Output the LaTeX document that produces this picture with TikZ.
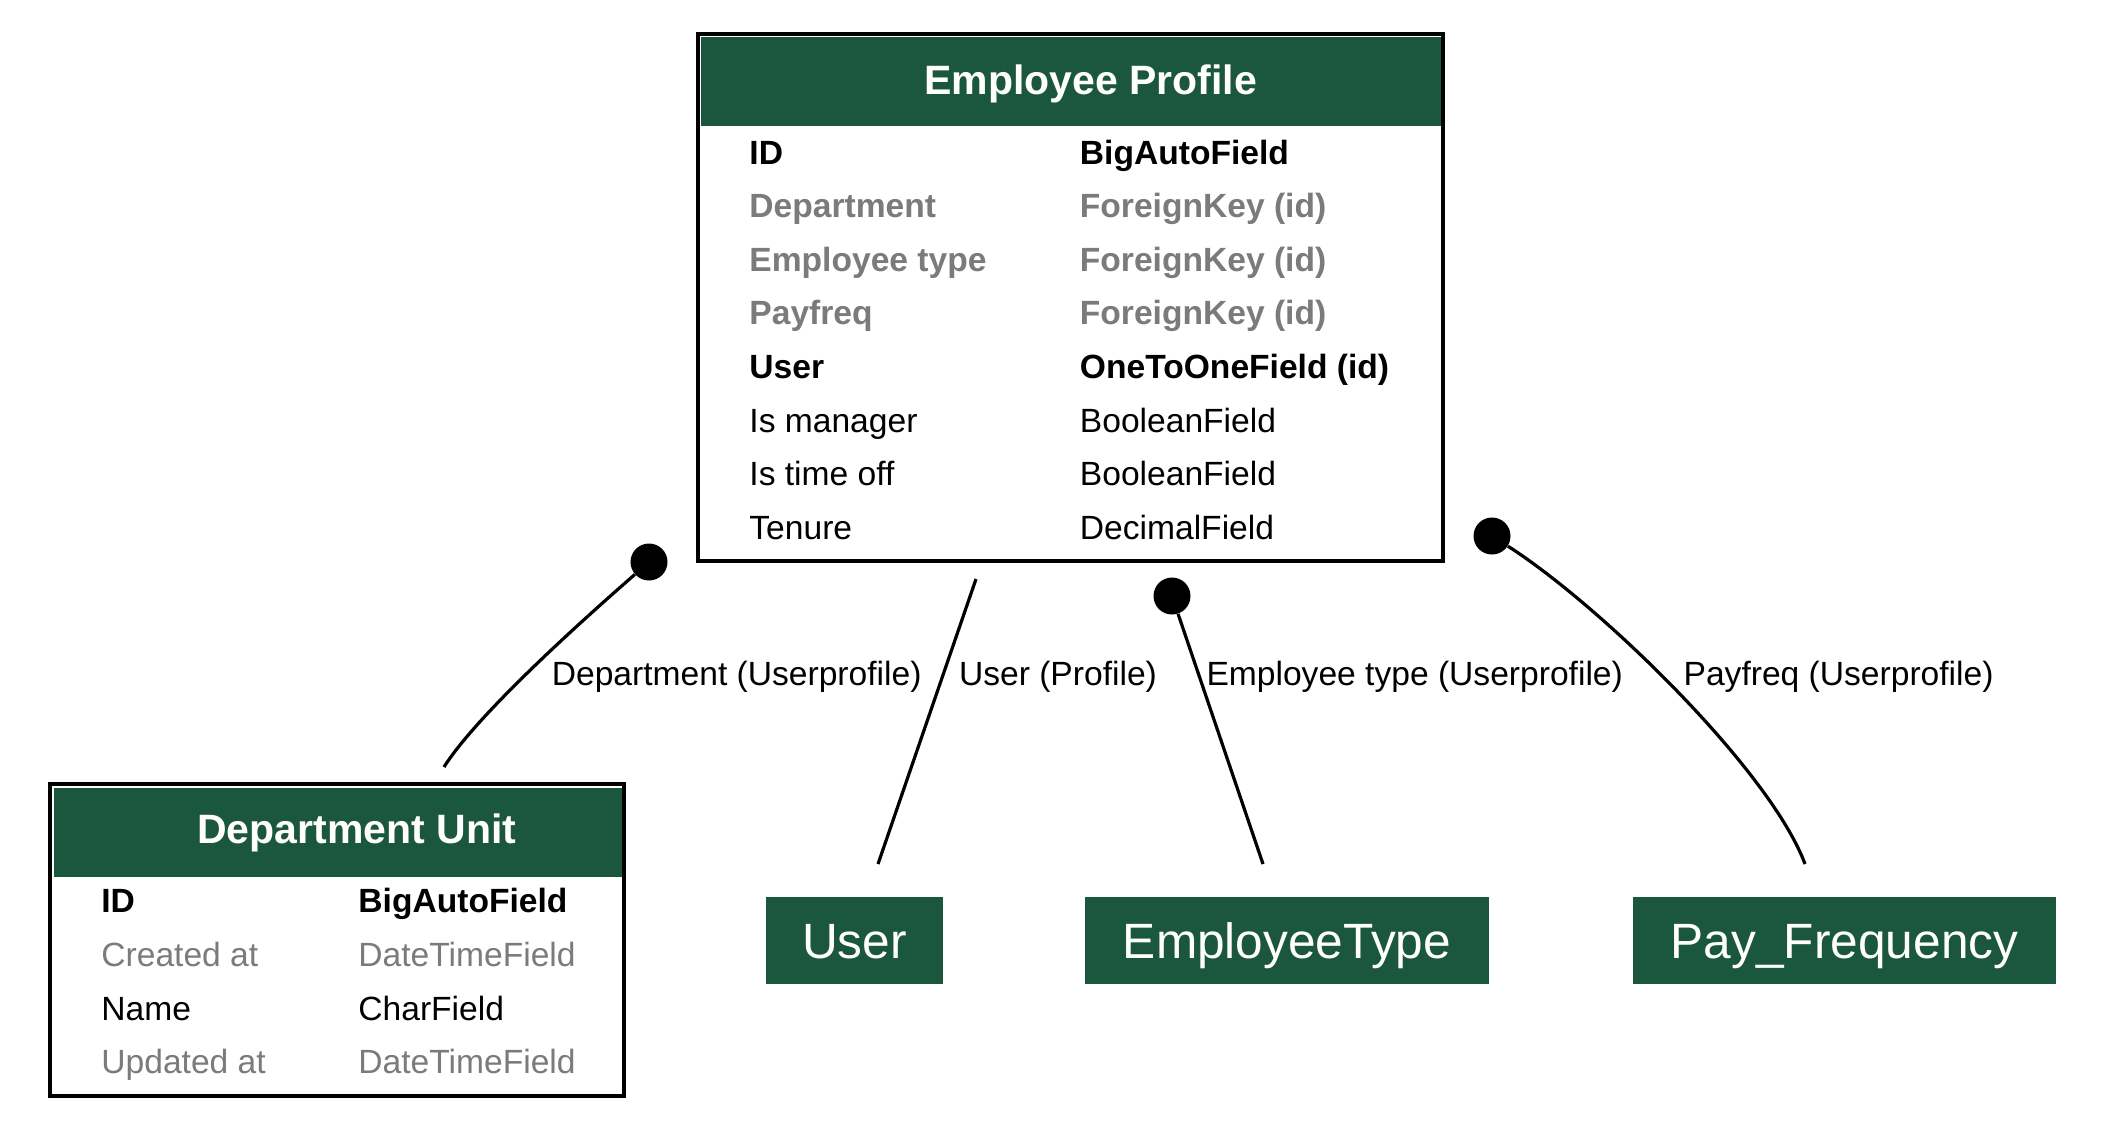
\documentclass[tikz,border=0pt]{standalone}
\usepackage{fontspec}
\setmainfont{Liberation Sans}
\usepackage{tikz}
\usetikzlibrary{positioning}
\definecolor{hdgreen}{HTML}{1B563F}
\definecolor{fkgray}{HTML}{7B7B7B}

\begin{document}
\begin{tikzpicture}[
      x=0.5pt, y=-0.5pt,
      tbl/.style={draw, line width=2pt, inner sep=0pt},
      head/.style={fill=hdgreen, inner sep=0pt, minimum height=44.5pt},
      ttl/.style={anchor=base, text=white, font=\fontsize{20.5}{24}\selectfont\bfseries},
      row/.style={anchor=base west, inner sep=0pt, font=\fontsize{16.8}{20}\selectfont},
      pkrow/.style={font=\fontsize{16.8}{20}\selectfont\bfseries},
      fkrow/.style={text=fkgray, font=\fontsize{16.8}{20}\selectfont\bfseries},
      plainrow/.style={},
      nullrow/.style={text=fkgray},
      ent/.style={fill=hdgreen, text=white, inner sep=0pt, font=\fontsize{24.8}{28}\selectfont,
        text height=17.8pt, text depth=0pt, minimum height=43.5pt},
      dotend/.style={circle, fill, inner sep=0pt, minimum size=18.5pt},
      rel/.style={line width=1.6pt},
      lbl/.style={anchor=base, inner sep=0pt, font=\fontsize{16.8}{20}\selectfont}
    ]
      \useasboundingbox (0,0) rectangle (2108,1131);
      \fill[white] (0,0) rectangle (2108,1131);

      % Employee Profile
      \node[head, minimum width=370pt] (ep-head) at (1071,81.5) {};
      \node[ttl] (ep-title) at (1090.7,94) {Employee Profile};
      \node[tbl, minimum width=372.5pt, minimum height=263.5pt] (ep) at (1070.5,297.5) {};
      \foreach \f/\t/\s [count=\i from 0] in {ID/BigAutoField/pkrow,
          Department/ForeignKey (id)/fkrow, Employee type/ForeignKey (id)/fkrow,
          Payfreq/ForeignKey (id)/fkrow, User/OneToOneField (id)/pkrow,
          Is manager/BooleanField/plainrow, Is time off/BooleanField/plainrow,
          Tenure/DecimalField/plainrow}{
        \node[row, \s] (ep-f\i) at (749,{164+53.6*\i}) {\f};
        \node[row, \s] (ep-t\i) at (1079.5,{164+53.6*\i}) {\t};
      }

      % Department Unit
      \node[head, minimum width=284pt] (du-head) at (338,832.5) {};
      \node[ttl] (du-title) at (356.8,843) {Department Unit};
      \node[tbl, minimum width=287pt, minimum height=156pt] (du) at (337,940) {};
      \foreach \f/\t/\s [count=\i from 0] in {ID/BigAutoField/pkrow,
          Created at/DateTimeField/nullrow, Name/CharField/plainrow,
          Updated at/DateTimeField/nullrow}{
        \node[row, \s] (du-f\i) at (101,{912.5+53.8*\i}) {\f};
        \node[row, \s] (du-t\i) at (358,{912.5+53.8*\i}) {\t};
      }

      % Related models
      \node[ent, minimum width=88.5pt] (user) at (854.5,940.5) {User};
      \node[ent, minimum width=202pt] (emptype) at (1287,940.5) {EmployeeType};
      \node[ent, minimum width=211.5pt] (payfreq) at (1844.5,940.5) {Pay\_Frequency};

      % Relations
      \node[dotend] (dep-dot) at (649,562) {};
      \node[dotend] (et-dot) at (1172,596) {};
      \node[dotend] (pf-dot) at (1492,536) {};
      \coordinate (dep-end) at (444,767);
      \coordinate (usr-start) at (976,579);
      \coordinate (usr-end) at (878,864);
      \coordinate (et-end) at (1263,864);
      \coordinate (pf-end) at (1805,864);

      \draw[rel] (dep-dot) .. controls (600,605) and (480,710) .. (dep-end);
      \draw[rel] (usr-start) -- (usr-end);
      \draw[rel] (et-dot) -- (et-end);
      \draw[rel] (pf-dot) .. controls (1600,605) and (1770,770) .. (pf-end);

      \node[lbl] (lbl-dep) at (736.7,685.7) {Department (Userprofile)};
      \node[lbl] (lbl-usr) at (1058,685.7) {User (Profile)};
      \node[lbl] (lbl-et) at (1414.7,685.7) {Employee type (Userprofile)};
      \node[lbl] (lbl-pf) at (1838.6,685.7) {Payfreq (Userprofile)};
    \end{tikzpicture}
\end{document}
